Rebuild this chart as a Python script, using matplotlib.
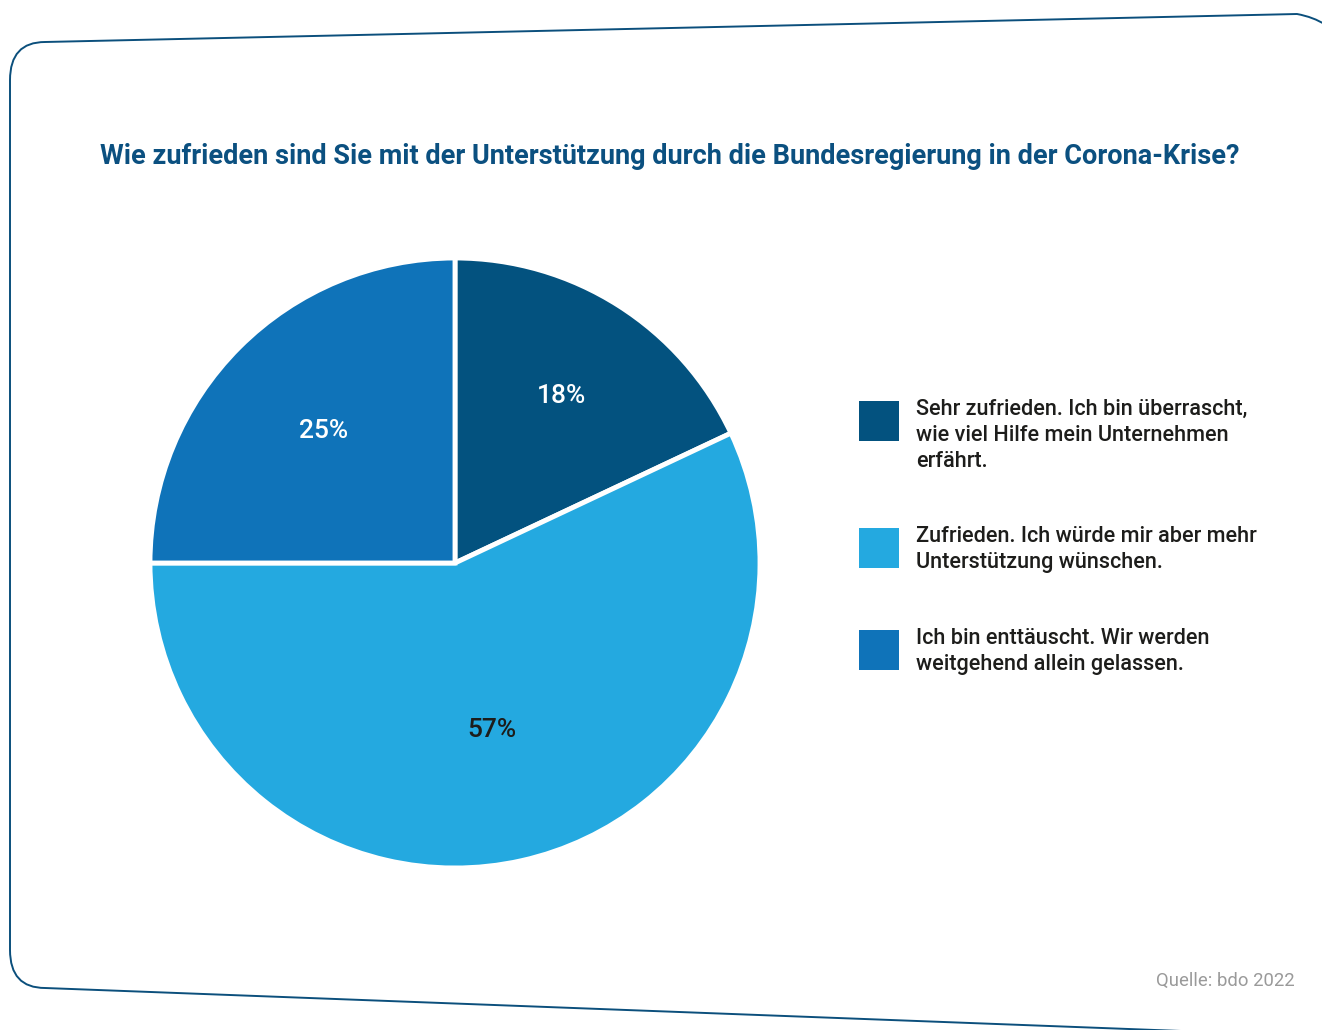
"""Pie chart: Zufriedenheit mit der Unterstuetzung durch die Bundesregierung."""

import matplotlib.pyplot as plt
from matplotlib.path import Path
import matplotlib.patches as mpatches

W, H, DPI = 1322, 1030, 100

LABELS = [
    "Sehr zufrieden. Ich bin überrascht,\nwie viel Hilfe mein Unternehmen\nerfährt.",
    "Zufrieden. Ich würde mir aber mehr\nUnterstützung wünschen.",
    "Ich bin enttäuscht. Wir werden\nweitgehend allein gelassen.",
]
SHARES = [18, 57, 25]
COLORS = ["#03527f", "#24a9e0", "#0f73b9"]
PCT_COLORS = ["white", "#1d1d1b", "white"]

TITLE = "Wie zufrieden sind Sie mit der Unterstützung durch die Bundesregierung in der Corona-Krise?"
SOURCE = "Quelle: bdo 2022"
FRAME = "#0b4f7c"
FONT = "Roboto"

fig = plt.figure(figsize=(W / DPI, H / DPI), dpi=DPI)

# background axes in pixel coordinates (y down) for frame + text
bg = fig.add_axes([0, 0, 1, 1])
bg.set_xlim(0, W)
bg.set_ylim(H, 0)
bg.axis("off")

# rounded, slightly skewed frame (open on the right)
verts = [(1345, 45), (1330, 20), (1297, 14), (45, 42), (10, 42), (10, 80),
         (10, 950), (10, 988), (45, 988), (1340, 1037)]
codes = [Path.MOVETO, Path.CURVE3, Path.CURVE3, Path.LINETO, Path.CURVE3, Path.CURVE3,
         Path.LINETO, Path.CURVE3, Path.CURVE3, Path.LINETO]
bg.add_patch(mpatches.PathPatch(Path(verts, codes), facecolor="none",
                                edgecolor=FRAME, lw=1.4))

bg.text(670, 157, TITLE, ha="center", va="center", fontsize=19.5,
        fontweight="bold", color="#0b5080", family=FONT)
bg.text(1295, 981, SOURCE, ha="right", va="center", fontsize=13.3,
        color="#9a9a9a", family=FONT)

# legend drawn by hand: square + multi-line label, top aligned
leg_tops = [401, 528, 630]
for label, color, y in zip(LABELS, COLORS, leg_tops):
    bg.add_patch(mpatches.Rectangle((859, y), 40, 40, facecolor=color, edgecolor="none"))
    bg.text(916, y - 2, label, ha="left", va="top", fontsize=15.6, color="#1d1d1b",
            family=FONT, fontweight="medium", linespacing=1.3)

# pie
cx, cy, r = 455, 563, 305
pax = fig.add_axes([(cx - r) / W, (H - cy - r) / H, 2 * r / W, 2 * r / H])
wedges, texts, autotexts = pax.pie(
    SHARES,
    colors=COLORS,
    startangle=90,
    counterclock=False,
    autopct="%d%%",
    pctdistance=1.0,
    wedgeprops=dict(edgecolor="white", linewidth=3.5),
    textprops=dict(fontsize=19, family=FONT, fontweight="medium"),
)
# per-slice label radius
for t, c, rad in zip(autotexts, PCT_COLORS, [0.65, 0.56, 0.61]):
    t.set_color(c)
    x, y = t.get_position()
    t.set_position((x * rad, y * rad))
pax.set_xlim(-1, 1)
pax.set_ylim(-1, 1)
pax.set_aspect("equal")

plt.savefig("out.png", dpi=DPI)
plt.close()
